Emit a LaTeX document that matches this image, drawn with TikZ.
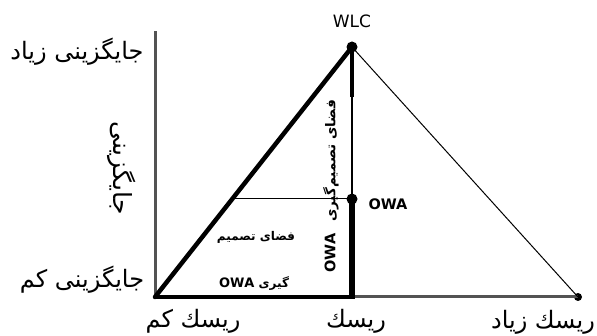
\documentclass[tikz,border=0pt]{standalone}
\usepackage{fontspec}
\setmainfont{DejaVu Sans}
\newfontfamily\farsi[Script=Arabic]{DejaVu Sans}
\TeXXeTstate=1

\begin{document}
\begin{tikzpicture}[
  x=1pt, y=-1pt,
  axis/.style={draw=gray!65!black, line width=3pt},
  heavy/.style={draw=black, line width=4.5pt},
  thinline/.style={draw=black, line width=1pt},
  dot/.style={circle, fill=black, inner sep=0pt, minimum size=11pt},
  small dot/.style={circle, fill=black, inner sep=0pt, minimum size=8pt},
  falabel/.style={font=\farsi\fontsize{24}{26}\selectfont, inner sep=0pt},
  fainner/.style={font=\farsi\bfseries\fontsize{12}{14}\selectfont, inner sep=0pt},
  latlabel/.style={font=\fontsize{17}{20}\selectfont, inner sep=0pt},
  owalabel/.style={font=\bfseries\fontsize{14.5}{16}\selectfont, inner sep=0pt}
]
\useasboundingbox (0,0) rectangle (597,336);

% ==================== points ====================
\coordinate (origin) at (155,297);
\coordinate (axtop) at (155,31);
\coordinate (riskmid) at (352,297);
\coordinate (bend) at (352,97);
\coordinate (cut) at (233.8,199);
\node[dot] (wlc) at (352,47) {};
\node[dot] (owa) at (352,199) {};
\node[small dot] (highrisk) at (578,297) {};

% ==================== axes ====================
\draw[axis] (origin) -- (axtop);
\draw[axis] (riskmid) -- (highrisk.center);

% ==================== triangle ====================
\draw[heavy, line cap=round] (origin) -- (wlc.center);
\draw[heavy] (origin) -- (riskmid);
\draw[thinline] (wlc.center) -- (highrisk.center);
\draw[draw=black, line width=3.5pt] (wlc.center) -- (bend);
\draw[draw=black, line width=1.6pt] (bend) -- (owa.center);
\draw[draw=black, line width=6pt] (owa.center) -- ([yshift=-2.2pt]riskmid);
\draw[thinline] (cut) -- (owa.center);

% ==================== labels ====================
\node[latlabel] (wlc_lbl) at (352,21) {WLC};
\node[owalabel] (owa_lbl) at (388,204) {OWA};

\node[falabel] (alt_high) at (77,52) {\beginR جایگزینی زیاد\endR};
\node[falabel] (alt_low) at (82,280) {\beginR جایگزینی کم\endR};
\node[falabel, font=\farsi\fontsize{25}{27}\selectfont, rotate=-90] (alt_axis) at (122,168) {\beginR جایگزینی\endR};

\node[falabel] (risk_low) at (193,321) {\beginR ریسك کم\endR};
\node[falabel] (risk_mid) at (356,321) {\beginR ریسك\endR};
\node[falabel] (risk_high) at (543,322) {\beginR ریسك زیاد\endR};

\node[fainner] (space1) at (256,237) {\beginR فضای تصمیم\endR};
\node[fainner] (space2) at (254,284) {\beginR گیری \beginL{\bfseries\fontsize{13}{15}\selectfont OWA}\endL\endR};
\node[fainner, font=\farsi\bfseries\fontsize{13.5}{15}\selectfont, rotate=90] (space_v) at (331,161) {\beginR فضای تصمیم‌گیری\endR};
\node[owalabel, rotate=90] (owa_v) at (330,253) {OWA};

\end{tikzpicture}
\end{document}
